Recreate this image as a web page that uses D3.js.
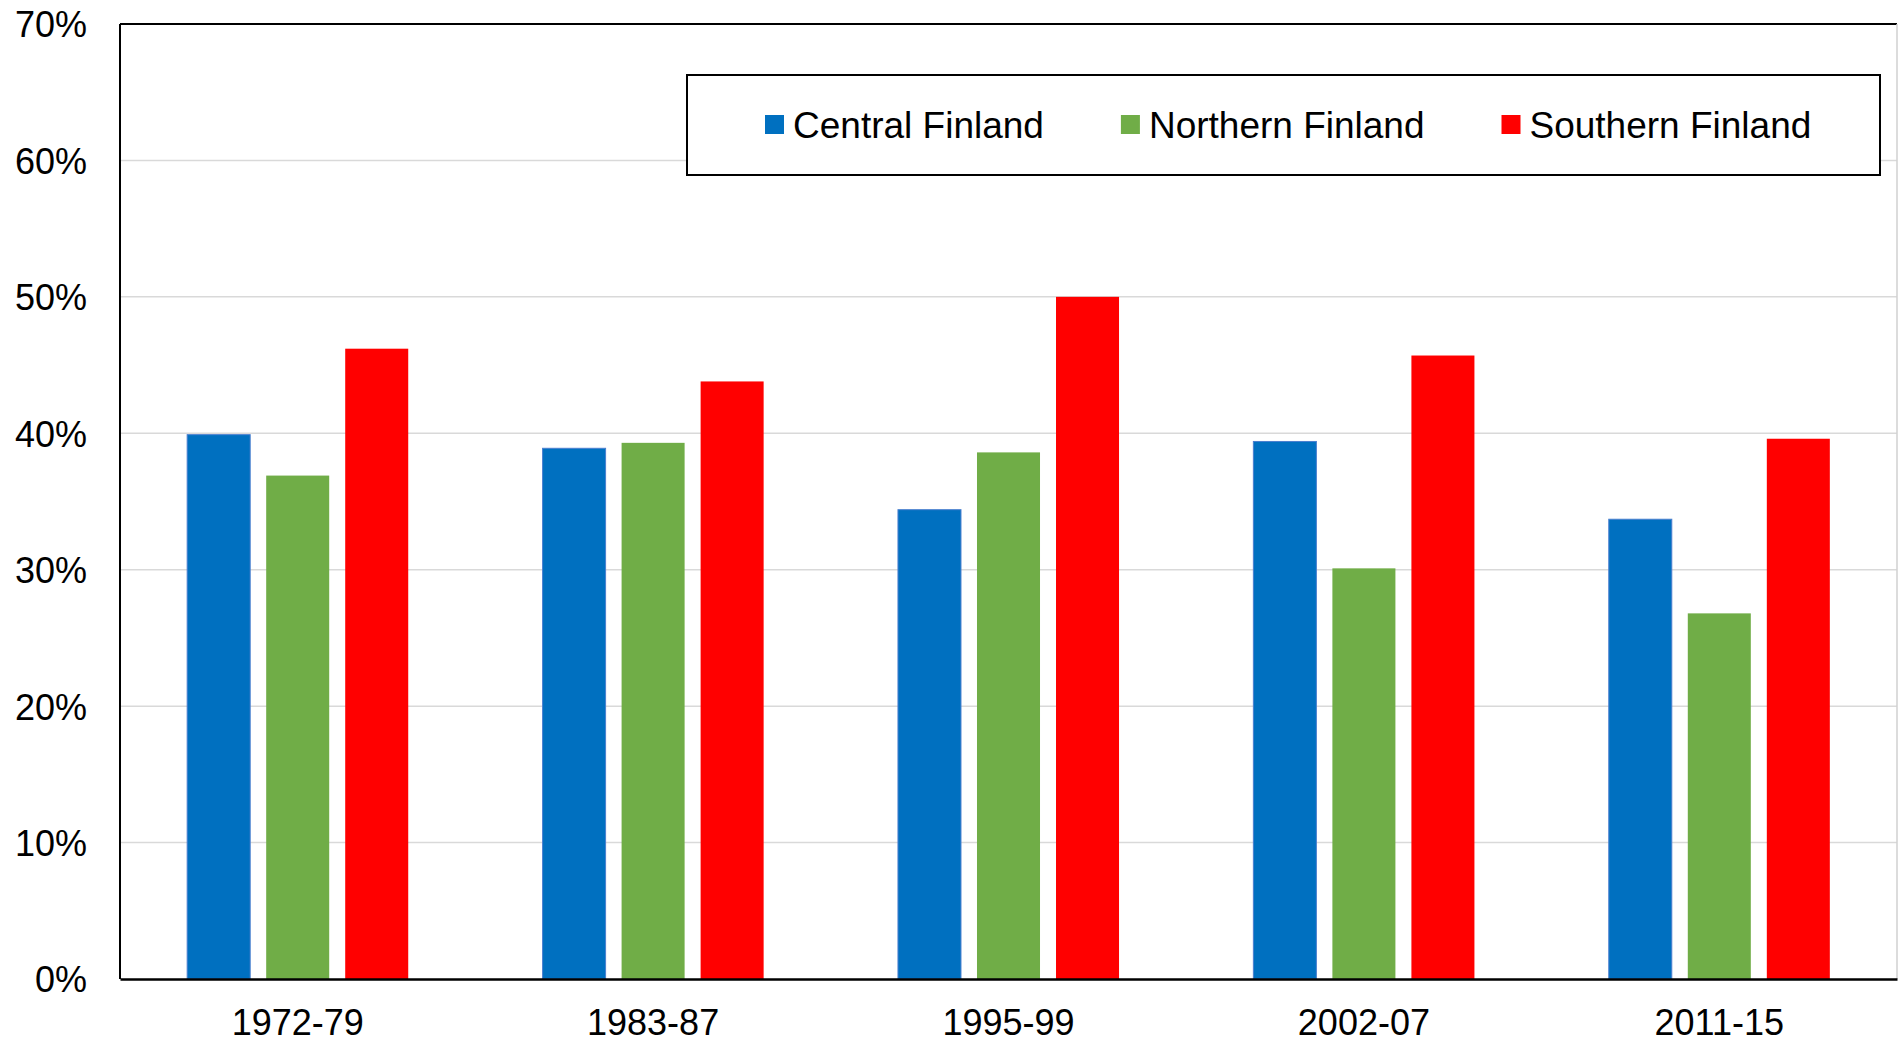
<!DOCTYPE html>
<html>
<head>
<meta charset="utf-8">
<script src="https://cdn.jsdelivr.net/npm/d3@7"></script>
<style>
  body { margin: 0; background: #fff; }
  svg { display: block; font-family: "Liberation Sans", Arial, sans-serif; }
</style>
</head>
<body>
<script>
// Data
const periods = ["1972-79", "1983-87", "1995-99", "2002-07", "2011-15"];
const regions = ["Central Finland", "Northern Finland", "Southern Finland"];
const central = [39.9, 38.9, 34.4, 39.4, 33.7];
const northern = [36.9, 39.3, 38.6, 30.1, 26.8];
const southern = [46.2, 43.8, 50.0, 45.7, 39.6];
const yTicks = [0, 10, 20, 30, 40, 50, 60, 70];
const colors = ["#0070C0", "#70AD47", "#FF0000"];

const w = 1898;
const h = 1043;
const margin = { top: 24, right: 1, bottom: 64, left: 120 };

const rows = periods.map((p, i) => ({
	period: p,
	values: [central[i], northern[i], southern[i]]
}));

const svg = d3.select("body").append("svg").attr("width", w).attr("height", h);

// Scales
const x0 = d3.scaleBand()
	.domain(periods)
	.range([margin.left, w - margin.right])
	.paddingInner(0)
	.paddingOuter(0);

const x1 = d3.scaleBand()
	.domain(regions)
	.range([0, x0.bandwidth()])
	.paddingInner(0.2025)
	.paddingOuter(0.85);

const y = d3.scaleLinear()
	.domain([0, 70])
	.range([h - margin.bottom, margin.top]);

// Gridlines
svg.append("g")
	.selectAll("line")
	.data(yTicks.filter((d) => d > 0 && d < 70))
	.enter()
	.append("line")
	.attr("x1", margin.left)
	.attr("x2", w - margin.right)
	.attr("y1", (d) => y(d))
	.attr("y2", (d) => y(d))
	.attr("stroke", "#d9d9d9")
	.attr("stroke-width", 1.5);

// Bars
const groups = svg.append("g")
	.selectAll("g")
	.data(rows)
	.enter()
	.append("g")
	.attr("transform", (d) => `translate(${x0(d.period)},0)`);

groups.selectAll("rect")
	.data((d) => d.values.map((v, j) => ({ region: regions[j], value: v, j })))
	.enter()
	.append("rect")
	.attr("x", (d) => x1(d.region))
	.attr("width", x1.bandwidth())
	.attr("y", (d) => y(d.value))
	.attr("height", (d) => y(0) - y(d.value))
	.attr("fill", (d) => colors[d.j])
	.attr("stroke", (d) => (d.j === 0 ? "#4a7fcf" : "none"))
	.attr("stroke-width", 1);

// Frame: top and left black, right light
svg.append("line")
	.attr("x1", margin.left).attr("x2", w - margin.right)
	.attr("y1", y(70)).attr("y2", y(70))
	.attr("stroke", "#000").attr("stroke-width", 2);
svg.append("line")
	.attr("x1", margin.left).attr("x2", margin.left)
	.attr("y1", y(70)).attr("y2", y(0))
	.attr("stroke", "#000").attr("stroke-width", 2);
svg.append("line")
	.attr("x1", w - 1).attr("x2", w - 1)
	.attr("y1", y(70)).attr("y2", y(0))
	.attr("stroke", "#d0d0d0").attr("stroke-width", 1.5);

// Bottom axis
const xAxis = d3.axisBottom(x0).tickSize(0).tickPadding(0);
const gx = svg.append("g")
	.attr("transform", `translate(0,${y(0)})`)
	.call(xAxis);
gx.select(".domain").attr("stroke", "#000").attr("stroke-width", 2.5);
gx.selectAll("text")
	.attr("y", 56)
	.attr("dy", 0)
	.attr("fill", "#000")
	.style("font-size", "36px")
	.style("font-family", "Liberation Sans, Arial, sans-serif");

// Left axis labels
const yAxis = d3.axisLeft(y).tickValues(yTicks).tickSize(0).tickPadding(33)
	.tickFormat((d) => d + "%");
const gy = svg.append("g")
	.attr("transform", `translate(${margin.left},0)`)
	.call(yAxis);
gy.select(".domain").remove();
gy.selectAll("text")
	.attr("dy", "0.36em")
	.attr("fill", "#000")
	.style("font-size", "36px")
	.style("font-family", "Liberation Sans, Arial, sans-serif");

// Legend
const legend = svg.append("g").attr("id", "legend");
const box = { x: 687, y: 75, w: 1193, h: 100 };
legend.append("rect")
	.attr("x", box.x).attr("y", box.y)
	.attr("width", box.w).attr("height", box.h)
	.attr("fill", "#fff")
	.attr("stroke", "#000")
	.attr("stroke-width", 2);

let cursor = box.x + 78;
const cy = box.y + box.h / 2;
regions.forEach((r, i) => {
	legend.append("rect")
		.attr("x", cursor)
		.attr("y", cy - 10)
		.attr("width", 19)
		.attr("height", 19)
		.attr("fill", colors[i]);
	const t = legend.append("text")
		.attr("x", cursor + 28)
		.attr("y", cy)
		.attr("dy", "0.36em")
		.style("font-size", "37px")
		.attr("fill", "#000")
		.text(r);
	cursor += 28 + t.node().getComputedTextLength() + 77;
});
</script>
</body>
</html>
